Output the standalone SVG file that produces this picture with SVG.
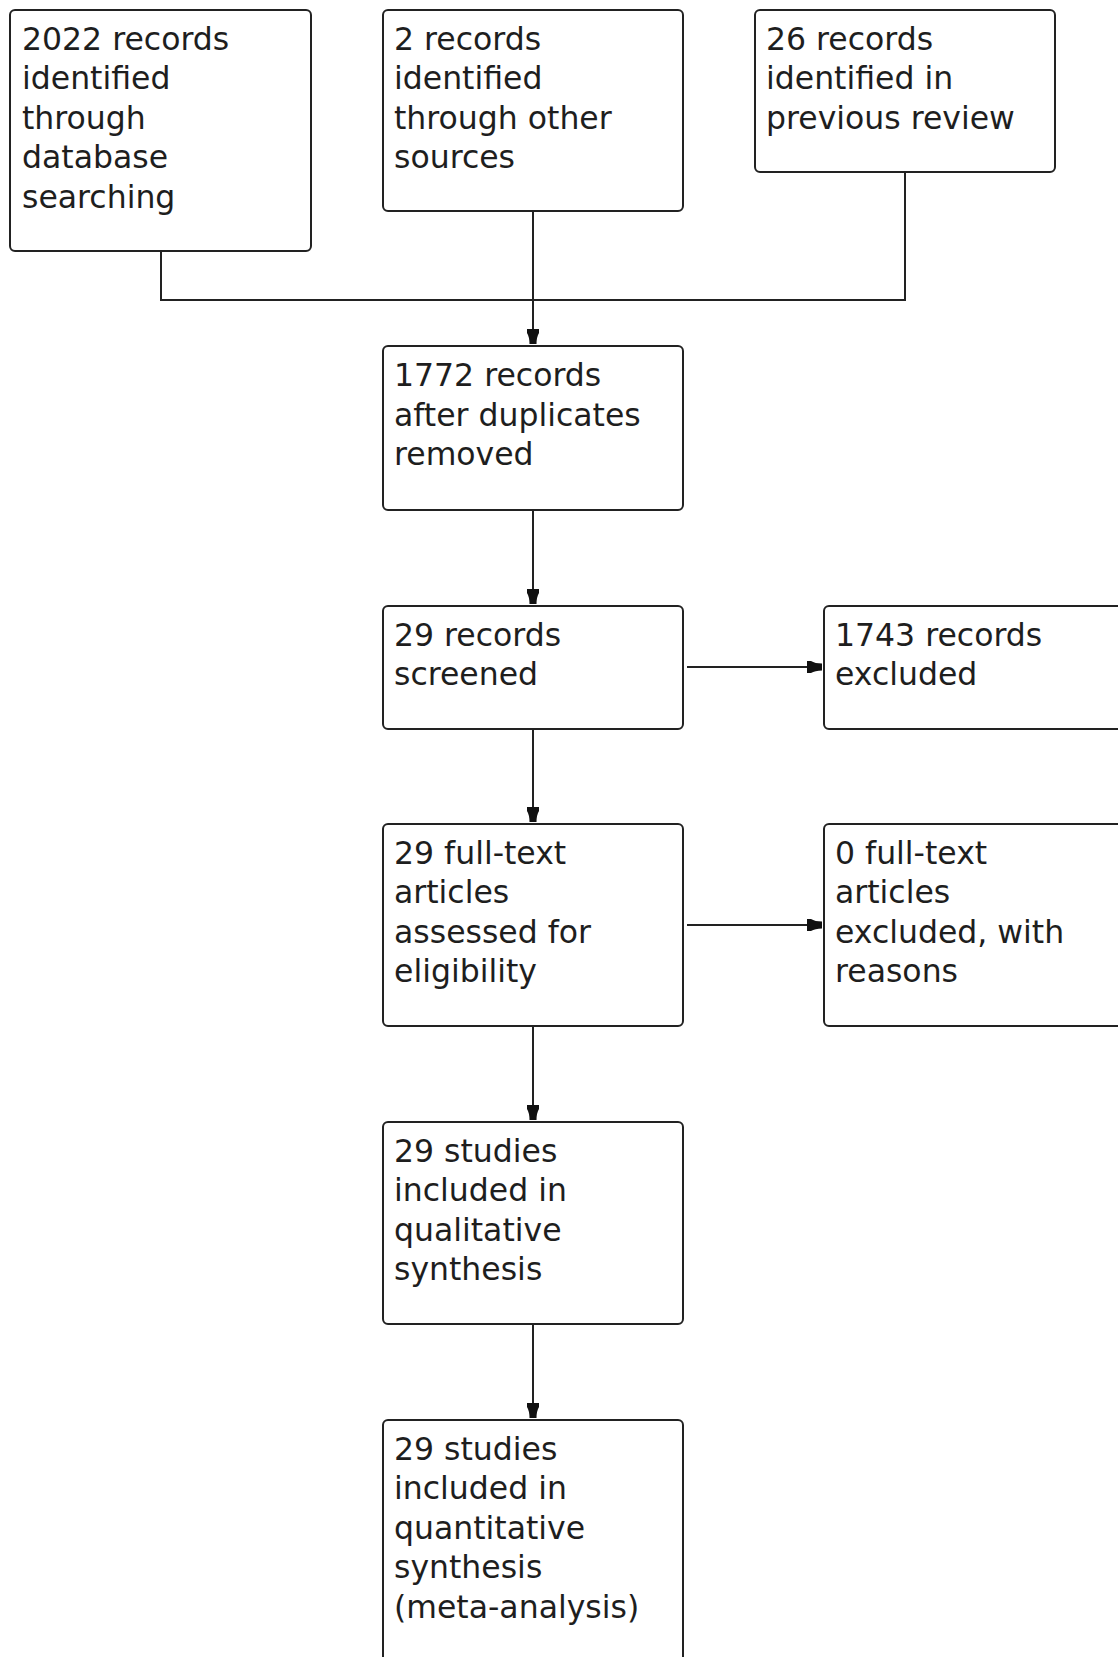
<svg xmlns="http://www.w3.org/2000/svg" width="1118" height="1657" viewBox="0 0 1118 1657">
<style>
.box{fill:#fff;stroke:#222;stroke-width:2}
.t{font-family:"DejaVu Sans",Verdana,sans-serif;font-size:31.5px;fill:#1e1e1e}
.c{fill:none;stroke:#222;stroke-width:2}
</style>
<defs>
<marker id="ah" markerUnits="userSpaceOnUse" markerWidth="16" markerHeight="14" refX="15" refY="0" viewBox="0 -7 16 14" orient="auto" overflow="visible">
<path d="M0,-6 L4,-6 Q8,-3.5 15,-3.5 L15,3.5 Q8,3.5 4,6 L0,6 Z" fill="#111"/>
</marker>
</defs>
<rect width="1118" height="1657" fill="#fff"/>
<g id="connectors">
<path class="c" d="M161,251 V300 H905 V172"/>
<path class="c" d="M533,211 V344" marker-end="url(#ah)"/>
<path class="c" d="M533,510 V604" marker-end="url(#ah)"/>
<path class="c" d="M687,667 H822" marker-end="url(#ah)"/>
<path class="c" d="M533,729 V822" marker-end="url(#ah)"/>
<path class="c" d="M687,925 H822" marker-end="url(#ah)"/>
<path class="c" d="M533,1026 V1120" marker-end="url(#ah)"/>
<path class="c" d="M533,1324 V1418" marker-end="url(#ah)"/>
</g>
<g id="n1"><rect class="box" x="10" y="10" width="301" height="241" rx="5"/>
<text class="t"><tspan x="22" y="49.5">2022 records</tspan><tspan x="22" y="89">identified</tspan><tspan x="22" y="128.5">through</tspan><tspan x="22" y="168">database</tspan><tspan x="22" y="207.5">searching</tspan></text></g>
<g id="n2"><rect class="box" x="383" y="10" width="300" height="201" rx="5"/>
<text class="t"><tspan x="394" y="49.5">2 records</tspan><tspan x="394" y="89">identified</tspan><tspan x="394" y="128.5">through other</tspan><tspan x="394" y="168">sources</tspan></text></g>
<g id="n3"><rect class="box" x="755" y="10" width="300" height="162" rx="5"/>
<text class="t"><tspan x="766" y="49.5">26 records</tspan><tspan x="766" y="89">identified in</tspan><tspan x="766" y="128.5">previous review</tspan></text></g>
<g id="n4"><rect class="box" x="383" y="346" width="300" height="164" rx="5"/>
<text class="t"><tspan x="394" y="386">1772 records</tspan><tspan x="394" y="425.5">after duplicates</tspan><tspan x="394" y="465">removed</tspan></text></g>
<g id="n5"><rect class="box" x="383" y="606" width="300" height="123" rx="5"/>
<text class="t"><tspan x="394" y="645.5">29 records</tspan><tspan x="394" y="685">screened</tspan></text></g>
<g id="n6"><rect class="box" x="824" y="606" width="300" height="123" rx="5"/>
<text class="t"><tspan x="835" y="645.5">1743 records</tspan><tspan x="835" y="685">excluded</tspan></text></g>
<g id="n7"><rect class="box" x="383" y="824" width="300" height="202" rx="5"/>
<text class="t"><tspan x="394" y="863.5">29 full-text</tspan><tspan x="394" y="903">articles</tspan><tspan x="394" y="942.5">assessed for</tspan><tspan x="394" y="982">eligibility</tspan></text></g>
<g id="n8"><rect class="box" x="824" y="824" width="300" height="202" rx="5"/>
<text class="t"><tspan x="835" y="863.5">0 full-text</tspan><tspan x="835" y="903">articles</tspan><tspan x="835" y="942.5">excluded, with</tspan><tspan x="835" y="982">reasons</tspan></text></g>
<g id="n9"><rect class="box" x="383" y="1122" width="300" height="202" rx="5"/>
<text class="t"><tspan x="394" y="1161.5">29 studies</tspan><tspan x="394" y="1201">included in</tspan><tspan x="394" y="1240.5">qualitative</tspan><tspan x="394" y="1280">synthesis</tspan></text></g>
<g id="n10"><rect class="box" x="383" y="1420" width="300" height="242" rx="5"/>
<text class="t"><tspan x="394" y="1459.5">29 studies</tspan><tspan x="394" y="1499">included in</tspan><tspan x="394" y="1538.5">quantitative</tspan><tspan x="394" y="1578">synthesis</tspan><tspan x="394" y="1617.5">(meta-analysis)</tspan></text></g>
</svg>
